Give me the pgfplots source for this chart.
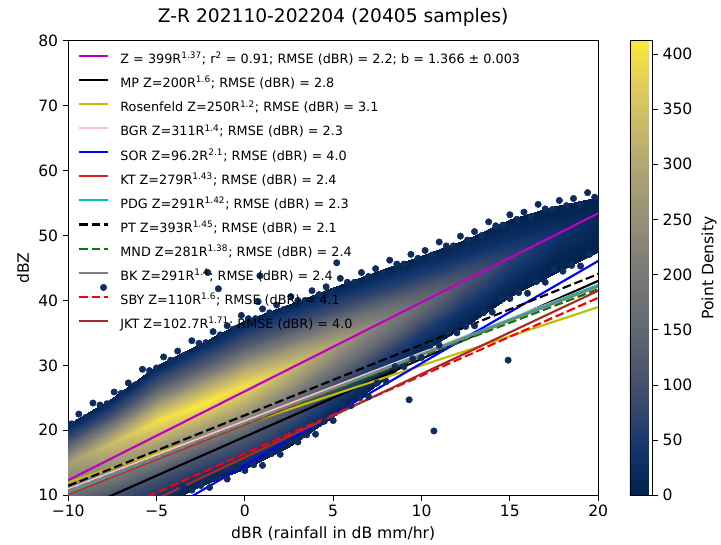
\documentclass[border=0pt]{standalone}
\usepackage{fontspec}
\setmainfont{DejaVu Sans}
\usepackage{pgfplots}
\pgfplotsset{compat=1.18}
\definecolor{navy}{RGB}{16,44,94}
\definecolor{mplm}{RGB}{191,0,191}
\definecolor{mply}{RGB}{191,191,0}
\definecolor{mplpink}{RGB}{255,192,203}
\definecolor{mplc}{RGB}{0,191,191}
\definecolor{mplg}{RGB}{0,128,0}
\definecolor{mplred}{RGB}{220,30,30}
\definecolor{mplbrown}{RGB}{165,42,42}
\definecolor{mplgray}{RGB}{128,128,128}
\newcommand{\sps}[1]{\textsuperscript{#1}}
\begin{document}
\begin{tikzpicture}
\begin{axis}[
  scale only axis, width=397.9pt, height=341.25pt,
  xmin=-10, xmax=20, ymin=10, ymax=80,
  xtick={-10,-5,0,5,10,15,20}, xticklabels={−10,−5,0,5,10,15,20},
  ytick={10,20,30,40,50,60,70,80},
  tick align=outside, xtick pos=bottom, ytick pos=left, major tick length=4pt,
  tick style={black, line width=0.6pt},
  axis line style={line width=0.6pt},
  ticklabel style={font=\fontsize{11.7}{14}\selectfont},
  /pgf/number format/assume math mode=true,
  xlabel={dBR (rainfall in dB mm/hr)}, ylabel={dBZ},
  label style={font=\fontsize{11.7}{14}\selectfont},
  title={Z-R 202110-202204 (20405 samples)},
  title style={font=\fontsize{14}{16}\selectfont, yshift=1.5pt},
  colormap={cividis}{rgb255=(0,34,78) rgb255=(18,54,110) rgb255=(57,73,108) rgb255=(83,92,109) rgb255=(104,110,115) rgb255=(124,123,120) rgb255=(148,143,119) rgb255=(171,162,115) rgb255=(196,183,106) rgb255=(223,205,93) rgb255=(254,232,56)},
  point meta min=0, point meta max=412,
  colorbar,
  colorbar shift/.style={xshift=23.8pt},
  colorbar style={
    at={(parent axis.north east)}, anchor=north west,
    width=17pt,
    ytick={0,50,100,150,200,250,300,350,400},
    ytick pos=right, yticklabel pos=right,
    tick align=outside, major tick length=4pt,
    tick style={black, line width=0.6pt},
    yticklabel style={font=\fontsize{11.7}{14}\selectfont},
    /pgf/number format/assume math mode=true,
    ylabel={Point Density},
    ylabel near ticks,
    ylabel style={font=\fontsize{11.7}{14}\selectfont},
  },
  legend cell align=left,
  legend style={at={(axis description cs:0,1)}, anchor=north west,
    xshift=7.3pt, yshift=-10pt,
    draw=none, fill=none, inner sep=0pt,
    font=\fontsize{9.6}{11}\selectfont,
    row sep=9.1pt, column sep=8.3pt,
    nodes={inner sep=0pt, text height=7pt, text depth=2pt}},
  legend image code/.code={\draw[#1] (0pt,3.4pt) -- (21.8pt,3.4pt);},
]
% density cloud
\addplot[surf, shader=interp, forget plot, point meta=explicit] table[x=x, y=y, meta=c] {
x y c
-10 2 0
-10 7 84
-10 11.5 210
-10 15 280
-10 16.5 210
-10 18.6 84
-10 21 0

-7.5 4 0
-7.5 10 102
-7.5 14.5 255
-7.5 18 340
-7.5 19.75 255
-7.5 22.2 102
-7.5 25 0

-5 8 0
-5 13.5 120
-5 18.2 300
-5 21.5 400
-5 23.6 300
-5 26.6 120
-5 30 0

-2.5 11.5 0
-2.5 16.5 124
-2.5 20.9 309
-2.5 24 412
-2.5 26.4 309
-2.5 29.7 124
-2.5 33.5 0

0 14 0
0 19.2 120
0 23.75 300
0 27 400
0 29.5 300
0 33 120
0 37 0

2.5 17.5 0
2.5 22.5 105
2.5 26.9 262
2.5 30 350
2.5 32.4 262
2.5 35.7 105
2.5 39.5 0

5 22 0
5 26.6 87
5 30.55 218
5 33.4 290
5 35.55 218
5 38.6 87
5 42 0

7.5 27 0
7.5 30.8 69
7.5 34.1 172
7.5 36.5 230
7.5 38.5 172
7.5 41.3 69
7.5 44.5 0

10 32 0
10 35.1 51
10 37.8 128
10 39.7 170
10 41.5 128
10 44.1 51
10 47 0

12.5 36 0
12.5 38.9 35
12.5 41.4 86
12.5 43.2 115
12.5 44.8 86
12.5 47 35
12.5 49.5 0

15 40.5 0
15 42.9 21
15 45.1 52
15 46.6 70
15 48.1 52
15 50.1 21
15 52.5 0

17.5 44 0
17.5 46.4 11
17.5 48.5 28
17.5 50 38
17.5 51.1 28
17.5 52.7 11
17.5 54.5 0

20 47.5 0
20 49.5 4
20 51.25 11
20 52.5 15
20 53.4 11
20 54.6 4
20 56 0
};
% sparse low-density points along the upper edge
\addplot[only marks, mark=*, mark size=2.4pt, color=navy, forget plot] coordinates {
(-9.8,21.0) (-9.4,22.5) (-9.0,22.0) (-8.6,24.2) (-8.2,23.9) (-7.8,24.1) (-7.4,25.9)
(-7.0,25.7) (-6.6,27.3) (-6.2,27.0) (-5.8,29.4) (-5.4,29.2) (-5.0,29.6) (-4.6,31.3)
(-4.2,30.8) (-3.8,32.2) (-3.4,31.6) (-3.0,33.8) (-2.6,33.4) (-2.2,33.5) (-1.8,35.2)
(-1.4,34.7) (-1.0,36.1) (-0.6,35.6) (-0.2,37.7) (0.2,37.2) (0.6,37.2) (1.0,38.7)
(1.4,38.1) (1.8,39.3) (2.2,38.6) (2.6,40.6) (3.0,40.0) (3.4,40.0) (3.8,41.5)
(4.2,40.9) (4.6,42.1) (5.0,41.4) (5.4,43.4) (5.8,42.8) (6.2,42.8) (6.6,44.3)
(7.0,43.7) (7.4,44.9) (7.8,44.2) (8.2,46.2) (8.6,45.6) (9.0,45.6) (9.4,47.1)
(9.8,46.5) (10.2,47.7) (10.6,47.0) (11.0,49.0) (11.4,48.4) (11.8,48.4) (12.2,49.9)
(12.6,49.3) (13.0,50.6) (13.4,50.0) (13.8,52.1) (14.2,51.5) (14.6,51.6) (15.0,53.2)
(15.4,52.5) (15.8,53.6) (16.2,52.9) (16.6,54.8) (17.0,54.1) (17.4,54.0) (17.8,55.4)
(18.2,54.6) (18.6,55.7) (19.0,54.8) (19.4,56.6) (19.8,55.9)
};
% sparse low-density points along the lower edge
\addplot[only marks, mark=*, mark size=2.4pt, color=navy, forget plot] coordinates {
(-4.5,9.8) (-4,9.5) (-3.5,11.3) (-3,10.8) (-2.5,11.5) (-2,11.2)
(-1.5,12.8) (-1,12.5) (-0.5,14.3) (0,13.8) (0.5,14.7) (1,14.6)
(1.5,16.4) (2,16.3) (2.5,18.3) (3,18.2) (3.5,19.3) (4,19.4)
(4.5,21.4) (5,21.5) (5.5,23.8) (6,23.8) (6.5,25) (7,25.2)
(7.5,27.3) (8,27.5) (8.5,29.8) (9,29.8) (9.5,31) (10,31.2)
(10.5,33.1) (11,33.1) (11.5,35.2) (12,35) (12.5,36) (13,36.1)
(13.5,38.1) (14,38.2) (14.5,40.4) (15,40.3) (15.5,41.2) (16,41.1)
(16.5,42.9) (17,42.8) (17.5,44.8) (18,44.5) (18.5,45.4) (19,45.3) (19.5,47.1)
};
% outliers
\addplot[only marks, mark=*, mark size=2.4pt, color=navy, forget plot] coordinates {
(-8.0,42.0) (-2.1,44.3) (-1.5,41.8) (0.85,43.8) (5.2,45.8) (0.75,39.8)
(9.3,24.7) (10.7,19.9) (14.9,30.8)
};
% Z-R relations
\addplot[mplm, line width=1.6pt] coordinates {(-10,12.31) (20,53.41)};
\addlegendentry{Z = 399R\sps{1.37}; r\sps{2} = 0.91; RMSE (dBR) = 2.2; b = 1.366 ± 0.003}
\addplot[black, line width=1.6pt] coordinates {(-10,7.01) (20,43.01)};
\addlegendentry{MP Z=200R\sps{1.6}; RMSE (dBR) = 2.8}
\addplot[mply, line width=1.6pt] coordinates {(-10,11.98) (20,38.98)};
\addlegendentry{Rosenfeld Z=250R\sps{1.2}; RMSE (dBR) = 3.1}
\addplot[mplpink, line width=1.6pt] coordinates {(-10,10.93) (20,42.43)};
\addlegendentry{BGR Z=311R\sps{1.4}; RMSE (dBR) = 2.3}
\addplot[blue, line width=1.6pt] coordinates {(-10,-1.17) (20,46.08)};
\addlegendentry{SOR Z=96.2R\sps{2.1}; RMSE (dBR) = 4.0}
\addplot[mplred, line width=1.6pt] coordinates {(-10,10.16) (20,42.33)};
\addlegendentry{KT Z=279R\sps{1.43}; RMSE (dBR) = 2.4}
\addplot[mplc, line width=1.6pt] coordinates {(-10,10.44) (20,42.39)};
\addlegendentry{PDG Z=291R\sps{1.42}; RMSE (dBR) = 2.3}
\addplot[black, line width=1.6pt, dash pattern=on 6.5pt off 2.8pt] coordinates {(-10,11.44) (20,44.07)};
\addlegendentry{PT Z=393R\sps{1.45}; RMSE (dBR) = 2.1}
\addplot[mplg, line width=1.6pt, dash pattern=on 6.5pt off 2.8pt] coordinates {(-10,10.69) (20,41.74)};
\addlegendentry{MND Z=281R\sps{1.38}; RMSE (dBR) = 2.4}
\addplot[mplgray, line width=1.6pt] coordinates {(-10,10.64) (20,42.14)};
\addlegendentry{BK Z=291R\sps{1.4}; RMSE (dBR) = 2.4}
\addplot[red, line width=1.6pt, dash pattern=on 6.5pt off 2.8pt] coordinates {(-10,4.41) (20,40.41)};
\addlegendentry{SBY Z=110R\sps{1.6}; RMSE (dBR) = 4.1}
\addplot[mplbrown, line width=1.6pt] coordinates {(-10,3.02) (20,41.50)};
\addlegendentry{JKT Z=102.7R\sps{1.71}; RMSE (dBR) = 4.0}
\end{axis}
\path[use as bounding box] (-51.2pt,-36.2pt) rectangle (489.5pt,371.8pt);
\end{tikzpicture}
\end{document}
